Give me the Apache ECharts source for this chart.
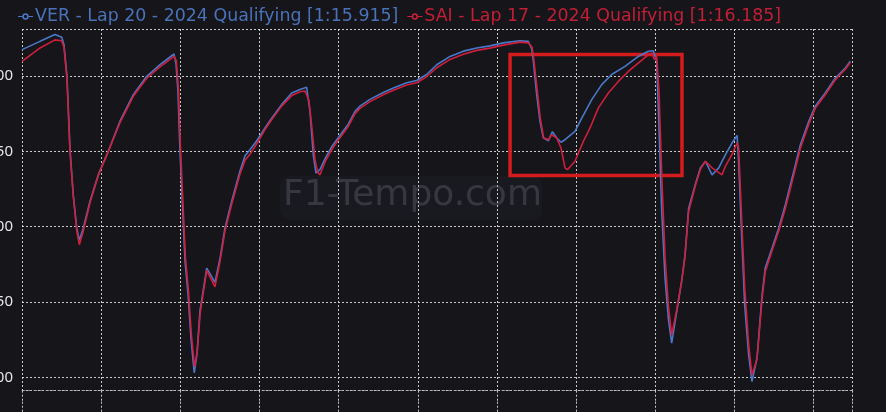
<!DOCTYPE html>
<html><head><meta charset="utf-8">
<script src="https://cdn.jsdelivr.net/npm/echarts@6/dist/echarts.min.js"></script>
<style>html,body{margin:0;padding:0;background:#16151a}#c{width:886px;height:412px}</style>
</head><body><div id="c"></div>
<script>
const verName = 'VER - Lap 20 - 2024 Qualifying [1:15.915]';
const saiName = 'SAI - Lap 17 - 2024 Qualifying [1:16.185]';
const verColor = '#4a78c8';
const saiColor = '#cf1f3c';
const verText = '#4a72b8';
const saiText = '#c21f36';
const xMin = 0, xMax = 5243, xInterval = 500;
const yMin = 91.1, yMax = 331.2;
const yTicks = [100, 150, 200, 250, 300];

const verDist = [0,114,208,251,265,284,303,324,346,362,387,430,482,545,619,703,788,872,960,973,985,998,1030,1049,1068,1088,1105,1124,1167,1219,1251,1282,1325,1377,1409,1440,1483,1535,1577,1640,1704,1756,1798,1819,1840,1857,1883,1914,1956,1998,2061,2104,2135,2198,2282,2346,2430,2493,2556,2620,2704,2788,2872,2956,3040,3146,3198,3220,3230,3251,3272,3293,3325,3350,3378,3405,3430,3493,3536,3599,3662,3725,3809,3893,3956,3988,4009,4024,4041,4062,4083,4104,4136,4167,4188,4211,4253,4285,4317,4359,4401,4443,4485,4517,4527,4544,4565,4590,4611,4643,4675,4695,4738,4780,4822,4875,4917,4970,5011,5074,5138,5201,5232];
const verSpeed = [317.5,323,327.5,325.7,321,300,252,221,199,191,199,217,234.5,250,270,287.6,299.8,307.5,314.6,308,290,250,177,155,125,103,115,144,172.5,163,179,199,217,237,247,251,257,265.5,272,281,288.7,291,292.5,276.6,247.7,235.6,238,245,253,259,268,276.6,280,284.5,289,292,295.5,297,301,307.5,313,316.5,318.6,320,322,323.4,323,318,310,288,270,259,257,263,258.8,256,257.7,263.3,272,284.3,294.3,301,306.4,313,316.4,316.8,310,265.5,210,166,139,122.7,143.8,163.7,181,212,228,239,243.4,234.4,239,247.7,255.5,260.6,243,199,148,115,97.2,112.8,154.8,172.5,185.8,199,214.5,236.7,254.4,270,280,288.7,298.7,305.3,309.8];

const saiDist = [0,114,208,251,265,284,303,324,346,362,387,430,482,545,619,703,788,872,960,975,988,1000,1032,1051,1070,1090,1107,1126,1167,1219,1251,1282,1325,1377,1409,1440,1483,1535,1577,1640,1704,1756,1788,1812,1832,1850,1868,1883,1914,1956,1998,2061,2104,2135,2198,2282,2346,2430,2493,2556,2620,2704,2788,2872,2956,3040,3146,3198,3222,3232,3253,3274,3295,3325,3346,3378,3405,3430,3445,3493,3546,3588,3640,3704,3767,3830,3904,3956,3977,3995,4009,4024,4041,4062,4083,4104,4136,4167,4188,4211,4253,4285,4317,4359,4422,4443,4485,4517,4527,4544,4565,4590,4611,4643,4675,4695,4738,4780,4822,4875,4917,4970,5011,5074,5138,5201,5232];
const saiSpeed = [309.7,318.6,324,323.4,319,298,250,220,197,188,197,216,234,250,269,286.5,298.5,306,313,310,292,255,180,158,128,107,117,143,171,160,177,197,215,235,244,248,255,264.5,271,280,287,289.5,290,284,265,245,236,234.4,243,251,257.5,266.5,275,278.5,283,287.5,290.5,294,295.5,299.5,305.5,311,314.5,317,318.5,320.5,322.5,322,319,312,292,272,259,257.7,261,258.8,252.2,239,237.8,243.4,256.6,265.5,278.7,288.7,296.4,303,309.6,314.1,315.3,311,313,290,235,180,148,128,145,164,180,210,227,238,243.4,239,234.4,240,248,255.5,252,210,160,122,101.6,112,152,170,184,197,212,234,252,268,278.5,287.5,297.5,304.5,309];

const boxFrom = [3083, 314.3];
const boxTo = [4169, 233.9];

const zip = (a, b) => a.map((v, i) => [v, b[i]]);
const gridLine = { color: 'rgba(235,235,235,0.85)', width: 1, type: [2, 2] };
const legendIcon = 'path://M0,6.4h4.6v1.2h-4.6Z M11.4,6.4h4.6v1.2h-4.6Z M4.6,7a3.4,3.4 0 1,0 6.8,0a3.4,3.4 0 1,0 -6.8,0Z M6.2,7a1.8,1.8 0 1,1 3.6,0a1.8,1.8 0 1,1 -3.6,0Z';

const chart = echarts.init(document.getElementById('c'), null, { renderer: 'canvas' });
chart.setOption({
  backgroundColor: '#16151a',
  animation: false,
  legend: {
    top: 3, left: 13, itemGap: 9, itemWidth: 15, itemHeight: 12, icon: legendIcon,
    textStyle: { fontFamily: 'DejaVu Sans', fontSize: 17.4, padding: [0, 0, 0, -3] },
    data: [
      { name: verName, textStyle: { color: verText } },
      { name: saiName, textStyle: { color: saiText } }
    ]
  },
  grid: [
    { left: 22, right: 34, top: 29, bottom: 21.3, containLabel: false, outerBoundsMode: 'none' },
    { left: 22, right: 34, top: 401.7, height: 100, containLabel: false, outerBoundsMode: 'none' }
  ],
  xAxis: [
    { type: 'value', min: xMin, max: xMax, interval: xInterval, gridIndex: 0,
      axisLine: { show: true, lineStyle: { color: 'rgba(170,170,170,0.8)', type: [3, 3] } },
      axisTick: { show: true, length: 11, lineStyle: gridLine },
      axisLabel: { show: false },
      splitLine: { show: true, lineStyle: gridLine } },
    { type: 'value', min: xMin, max: xMax, interval: xInterval, gridIndex: 1, position: 'top',
      axisLine: { show: true, lineStyle: { color: 'rgba(200,200,200,0.75)', type: [2, 2] } },
      axisTick: { show: false }, axisLabel: { show: false },
      splitLine: { show: true, lineStyle: gridLine } }
  ],
  yAxis: [
    { type: 'value', min: yMin, max: yMax, gridIndex: 0,
      axisLine: { show: false }, axisTick: { show: false },
      axisLabel: { color: '#e6e6e6', fontFamily: 'Noto Sans', fontSize: 15, margin: 9,
        showMinLabel: false, showMaxLabel: false,
        formatter: v => (yTicks.indexOf(v) >= 0 ? String(v) : '') },
      splitLine: { show: true, lineStyle: gridLine } },
    { type: 'value', gridIndex: 1, show: false, splitLine: { show: false } }
  ],
  graphic: [
    { type: 'rect', left: 280, top: 176, shape: { width: 262, height: 44, r: 10 },
      style: { fill: 'rgba(40,50,62,0.2)' }, z: 0, silent: true },
    { type: 'text', left: 283, top: 178, z: 1, silent: true,
      style: { text: 'F1-Tempo.com', fill: 'rgba(120,120,130,0.32)', font: '36px "DejaVu Sans"' } }
  ],
  series: [
    { name: verName, type: 'line', xAxisIndex: 0, yAxisIndex: 0, data: zip(verDist, verSpeed),
      showSymbol: false, lineStyle: { color: verColor, width: 1.6 },
      itemStyle: { color: verColor }, z: 3 },
    { name: saiName, type: 'line', xAxisIndex: 0, yAxisIndex: 0, data: zip(saiDist, saiSpeed),
      showSymbol: false, lineStyle: { color: saiColor, width: 1.6 },
      itemStyle: { color: saiColor }, z: 4,
      markArea: { silent: true,
        itemStyle: { color: 'rgba(0,0,0,0)', borderColor: '#d41c1c', borderWidth: 3.5 },
        data: [[{ xAxis: boxFrom[0], yAxis: boxFrom[1] }, { xAxis: boxTo[0], yAxis: boxTo[1] }]] } }
  ]
});
</script></body></html>
